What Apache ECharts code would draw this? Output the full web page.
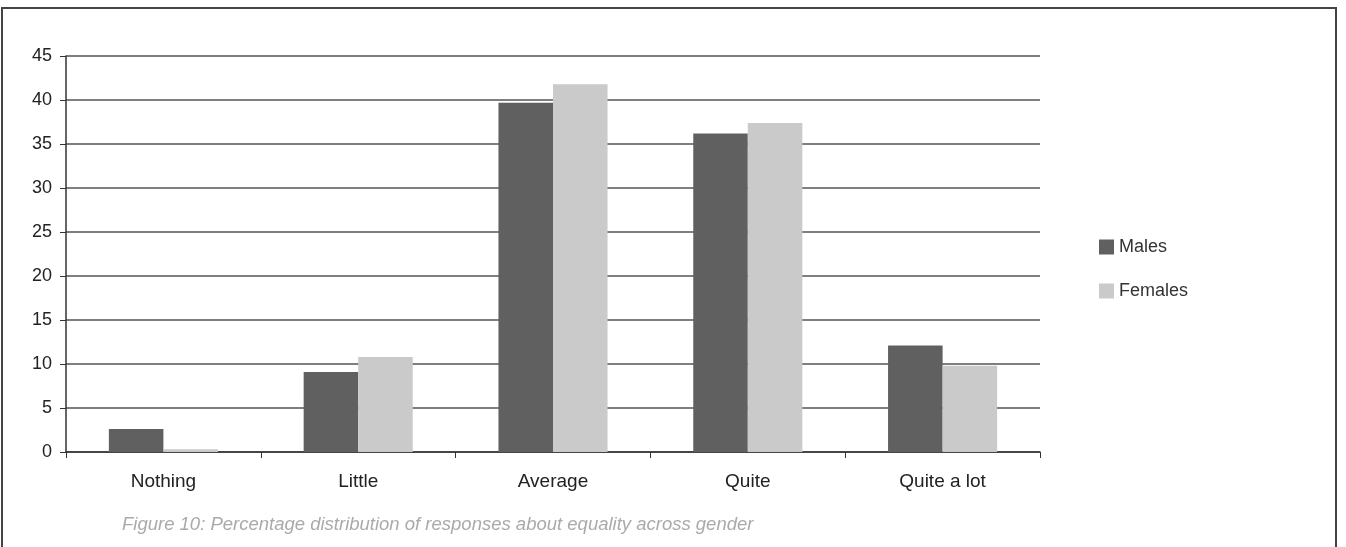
<!DOCTYPE html>
<html><head><meta charset="utf-8">
<script src="https://cdn.jsdelivr.net/npm/echarts@6/dist/echarts.min.js"></script>
<style>html,body{margin:0;padding:0;background:#fff}#c{width:1346px;height:547px}</style>
</head><body><div id="c"></div>
<script>
const categories = ['Nothing', 'Little', 'Average', 'Quite', 'Quite a lot'];
const males = [2.6, 9.1, 39.7, 36.2, 12.1];
const females = [0.3, 10.8, 41.8, 37.4, 9.8];
const seriesNames = ['Males', 'Females'];
const caption = 'Figure 10: Percentage distribution of responses about equality across gender';

const chart = echarts.init(document.getElementById('c'));
chart.setOption({
  animation: false,
  backgroundColor: '#fff',
  textStyle: { fontFamily: 'Liberation Sans' },
  grid: { left: 66, right: 306, top: 56, bottom: 95 },
  legend: {
    orient: 'vertical', left: 1094, top: 233, itemWidth: 15, itemHeight: 15, itemGap: 26,
    icon: 'rect', textStyle: { fontSize: 18, color: '#333', fontFamily: 'Liberation Sans' },
    data: seriesNames
  },
  xAxis: {
    type: 'category', data: categories,
    axisLine: { lineStyle: { color: '#333', width: 1.5 } },
    axisTick: { show: true, length: 6, lineStyle: { color: '#333' } },
    axisLabel: { fontSize: 19, color: '#222', margin: 20 }
  },
  yAxis: {
    type: 'value', min: 0, max: 45, interval: 5,
    axisLine: { show: true, lineStyle: { color: '#333', width: 1.5 } },
    axisTick: { show: true, length: 6, lineStyle: { color: '#333' } },
    axisLabel: { fontSize: 18, color: '#222', margin: 14 },
    splitLine: { lineStyle: { color: '#555', width: 1.5 } }
  },
  series: [
    { name: seriesNames[0], type: 'bar', data: males, barGap: '0%', barCategoryGap: '44%', itemStyle: { color: '#606060' } },
    { name: seriesNames[1], type: 'bar', data: females, itemStyle: { color: '#cacaca' } }
  ],
  graphic: [
    { type: 'rect', shape: { x: 2, y: 8, width: 1334, height: 560 }, style: { fill: null, stroke: '#444', lineWidth: 2 }, silent: true },
    { type: 'text', left: 122, top: 515, style: { text: caption, font: 'italic 18.5px "Liberation Sans"', fill: '#aaa' } }
  ]
});
</script></body></html>
